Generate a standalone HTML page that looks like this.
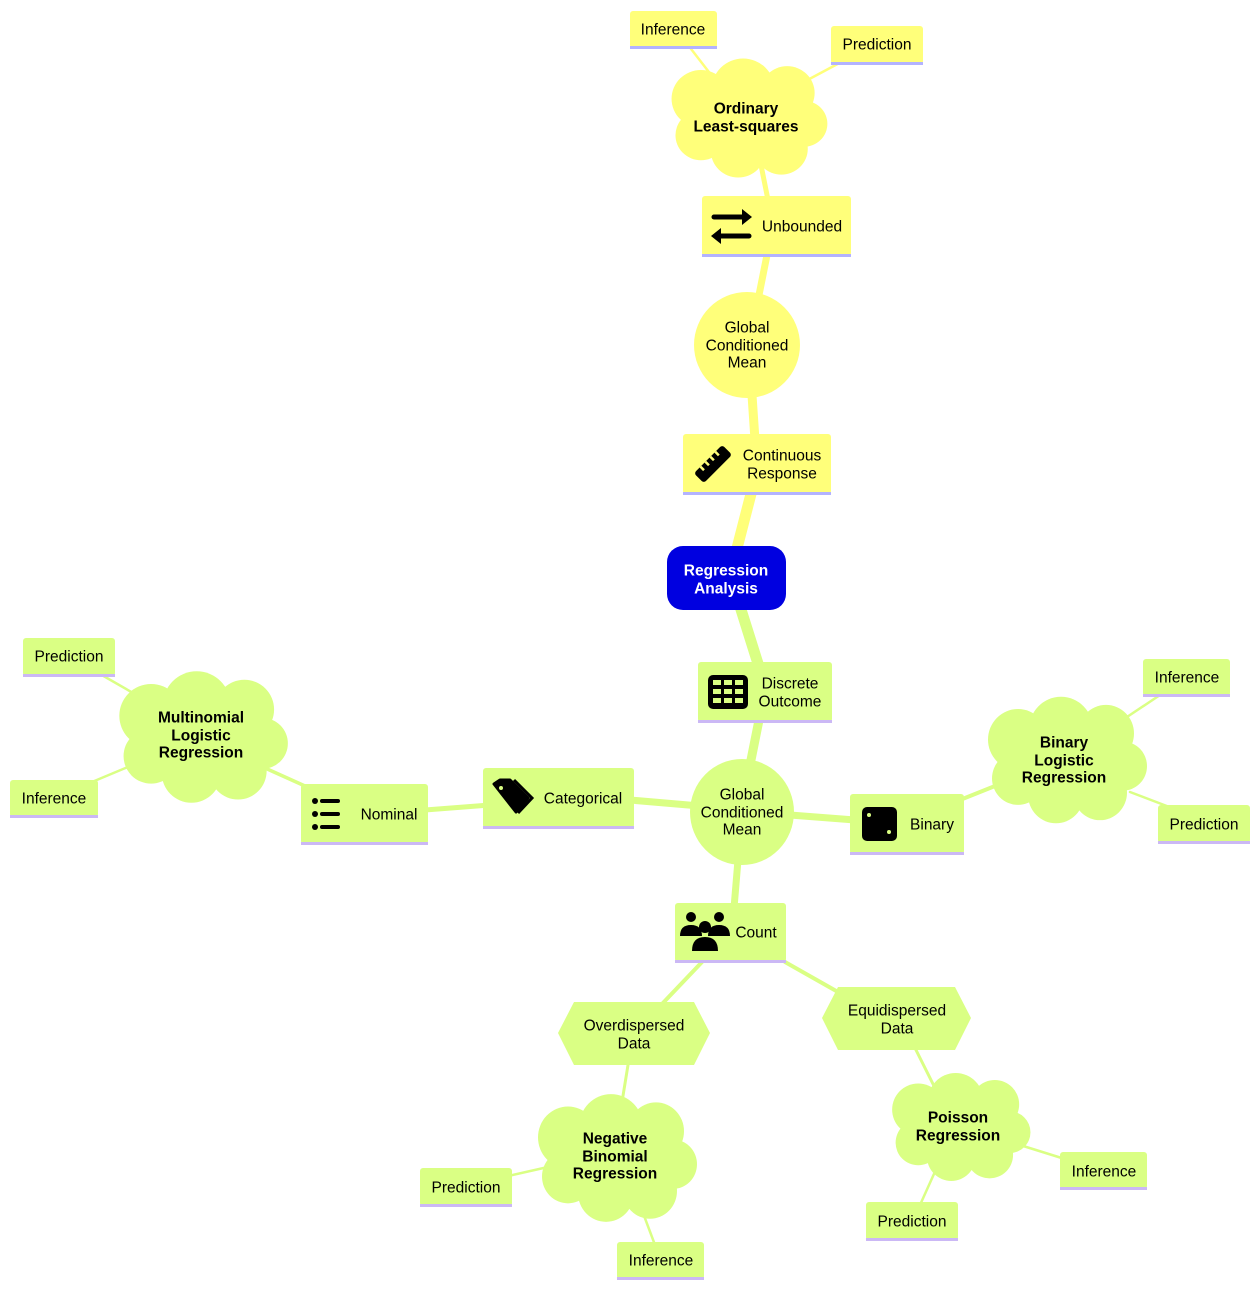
<!DOCTYPE html>
<html><head><meta charset="utf-8"><style>
html,body{margin:0;padding:0;background:#fff}
svg{display:block}
text{font-family:"Liberation Sans",sans-serif;font-size:15.5px;fill:#000;text-anchor:middle;dominant-baseline:central}
.b{font-weight:bold}
.g{fill:#daff84}.y{fill:#ffff7a}
</style></head><body>
<svg width="1260" height="1289" viewBox="0 0 1260 1289" xmlns="http://www.w3.org/2000/svg">
<defs>
<g id="cloud">
<ellipse cx="0" cy="0" rx="62" ry="42"/>
<circle cx="-48" cy="-20" r="30"/>
<circle cx="-5" cy="-30" r="32"/>
<circle cx="40" cy="-26" r="28"/>
<circle cx="57" cy="6" r="24"/>
<circle cx="34" cy="32" r="27"/>
<circle cx="-10" cy="34" r="28"/>
<circle cx="-48" cy="18" r="26"/>
</g>
</defs>
<g stroke-linecap="round" fill="none">
<g stroke="#ffff7a">
<line x1="735" y1="556" x2="752" y2="490" stroke-width="11"/>
<line x1="755" y1="440" x2="752" y2="395" stroke-width="9"/>
<line x1="758" y1="300" x2="768" y2="250" stroke-width="7"/>
<line x1="768" y1="200" x2="760" y2="160" stroke-width="5"/>
<line x1="712" y1="76" x2="688" y2="45" stroke-width="2.5"/>
<line x1="800" y1="84" x2="845" y2="60" stroke-width="2.5"/>
</g>
<g stroke="#daff84">
<line x1="738" y1="600" x2="760" y2="670" stroke-width="11"/>
<line x1="760" y1="715" x2="750" y2="765" stroke-width="9"/>
<line x1="700" y1="806" x2="630" y2="800" stroke-width="7"/>
<line x1="490" y1="805" x2="425" y2="810" stroke-width="5"/>
<line x1="305" y1="786" x2="265" y2="768" stroke-width="3.5"/>
<line x1="140" y1="697" x2="100" y2="674" stroke-width="2.5"/>
<line x1="135" y1="764" x2="92" y2="782" stroke-width="2.5"/>
<line x1="790" y1="815" x2="855" y2="820" stroke-width="7"/>
<line x1="960" y1="800" x2="1000" y2="784" stroke-width="4"/>
<line x1="1115" y1="725" x2="1160" y2="695" stroke-width="2.5"/>
<line x1="1130" y1="792" x2="1172" y2="808" stroke-width="2.5"/>
<line x1="738" y1="860" x2="734" y2="908" stroke-width="7"/>
<line x1="702" y1="962" x2="662" y2="1004" stroke-width="4"/>
<line x1="785" y1="962" x2="838" y2="992" stroke-width="4"/>
<line x1="628" y1="1065" x2="622" y2="1102" stroke-width="3"/>
<line x1="548" y1="1167" x2="508" y2="1176" stroke-width="2.5"/>
<line x1="640" y1="1205" x2="655" y2="1245" stroke-width="2.5"/>
<line x1="915" y1="1048" x2="935" y2="1088" stroke-width="3"/>
<line x1="1020" y1="1145" x2="1068" y2="1160" stroke-width="2.5"/>
<line x1="938" y1="1165" x2="920" y2="1205" stroke-width="2.5"/>
</g>
</g>

<!-- root -->
<rect x="667" y="546" width="119" height="64" rx="16" fill="#0000e0"/>
<text x="726" y="571" class="b" style="fill:#fff">Regression</text>
<text x="726" y="589" class="b" style="fill:#fff">Analysis</text>

<!-- yellow branch -->
<rect x="683" y="434" width="148" height="60" rx="3" class="y"/><rect x="683" y="492" width="148" height="3" fill="#b3b3ff"/>
<g transform="translate(713,464) rotate(-45)"><rect x="-20" y="-7" width="40" height="14" rx="3" fill="#000"/><g fill="#ffff7a"><rect x="-12" y="-7" width="2.5" height="5"/><rect x="-5" y="-7" width="2.5" height="5"/><rect x="2" y="-7" width="2.5" height="5"/><rect x="9" y="-7" width="2.5" height="5"/></g></g>
<text x="782" y="456">Continuous</text><text x="782" y="474">Response</text>

<circle cx="747" cy="345" r="53" class="y"/>
<text x="747" y="328">Global</text><text x="747" y="346">Conditioned</text><text x="747" y="363">Mean</text>

<rect x="702" y="196" width="149" height="60" rx="3" class="y"/><rect x="702" y="254" width="149" height="3" fill="#b3b3ff"/>
<g stroke="#000" stroke-width="5" fill="none" stroke-linecap="round"><line x1="714" y1="217" x2="745" y2="217"/><line x1="718" y1="236" x2="749" y2="236"/></g>
<path d="M742,209 L752,217 L742,225Z M721,228 L711,236 L721,244Z" fill="#000"/>
<text x="802" y="227">Unbounded</text>

<use href="#cloud" transform="translate(748,118) scale(0.98,0.96)" class="y"/>
<text x="746" y="109" class="b">Ordinary</text><text x="746" y="127" class="b">Least-squares</text>

<rect x="630" y="11" width="87" height="37" rx="3" class="y"/><rect x="630" y="46" width="87" height="3" fill="#b3b3ff"/><text x="673" y="30">Inference</text>
<rect x="831" y="26" width="92" height="38" rx="3" class="y"/><rect x="831" y="62" width="92" height="3" fill="#b3b3ff"/><text x="877" y="45">Prediction</text>

<!-- green branch -->
<rect x="698" y="662" width="134" height="60" rx="3" class="g"/><rect x="698" y="720" width="134" height="3" fill="#cbb8f5"/>
<rect x="708" y="675" width="40" height="34" rx="5" fill="#000"/>
<g fill="#daff84"><rect x="713" y="680" width="8" height="5"/><rect x="724" y="680" width="8" height="5"/><rect x="735" y="680" width="8" height="5"/><rect x="713" y="689" width="8" height="5"/><rect x="724" y="689" width="8" height="5"/><rect x="735" y="689" width="8" height="5"/><rect x="713" y="698" width="8" height="5"/><rect x="724" y="698" width="8" height="5"/><rect x="735" y="698" width="8" height="5"/></g>
<text x="790" y="684">Discrete</text><text x="790" y="702">Outcome</text>

<ellipse cx="742" cy="812" rx="52" ry="53" class="g"/>
<text x="742" y="795">Global</text><text x="742" y="813">Conditioned</text><text x="742" y="830">Mean</text>

<rect x="483" y="768" width="151" height="60" rx="3" class="g"/><rect x="483" y="826" width="151" height="3" fill="#cbb8f5"/>
<path d="M494,784 L500,780 L510,780 L528,798 L516,812 Z" fill="#000" stroke="#000" stroke-width="3" stroke-linejoin="round"/>
<circle cx="501" cy="788" r="2" fill="#daff84"/>
<path d="M514,780 L532,798 L518,813" fill="none" stroke="#000" stroke-width="3"/>
<text x="583" y="799">Categorical</text>

<rect x="301" y="784" width="127" height="60" rx="3" class="g"/><rect x="301" y="842" width="127" height="3" fill="#cbb8f5"/>
<g fill="#000"><circle cx="315" cy="801" r="3"/><circle cx="315" cy="814" r="3"/><circle cx="315" cy="827" r="3"/><rect x="320" y="799" width="20" height="4" rx="2"/><rect x="320" y="812" width="20" height="4" rx="2"/><rect x="320" y="825" width="20" height="4" rx="2"/></g>
<text x="389" y="815">Nominal</text>

<use href="#cloud" transform="translate(202,737) scale(1.06,1.06)" class="g"/>
<text x="201" y="718" class="b">Multinomial</text><text x="201" y="736" class="b">Logistic</text><text x="201" y="753" class="b">Regression</text>
<rect x="23" y="638" width="92" height="38" rx="3" class="g"/><rect x="23" y="674" width="92" height="3" fill="#cbb8f5"/><text x="69" y="657">Prediction</text>
<rect x="10" y="780" width="88" height="37" rx="3" class="g"/><rect x="10" y="815" width="88" height="3" fill="#cbb8f5"/><text x="54" y="799">Inference</text>

<rect x="850" y="794" width="114" height="60" rx="3" class="g"/><rect x="850" y="852" width="114" height="3" fill="#cbb8f5"/>
<rect x="862" y="807" width="35" height="34" rx="5" fill="#000"/><circle cx="869" cy="815" r="2" fill="#daff84"/><circle cx="889" cy="832" r="2" fill="#daff84"/>
<text x="932" y="825">Binary</text>

<use href="#cloud" transform="translate(1066,760) scale(1.0,1.02)" class="g"/>
<text x="1064" y="743" class="b">Binary</text><text x="1064" y="761" class="b">Logistic</text><text x="1064" y="778" class="b">Regression</text>
<rect x="1143" y="659" width="87" height="37" rx="3" class="g"/><rect x="1143" y="694" width="87" height="3" fill="#cbb8f5"/><text x="1187" y="678">Inference</text>
<rect x="1158" y="805" width="92" height="38" rx="3" class="g"/><rect x="1158" y="841" width="92" height="3" fill="#cbb8f5"/><text x="1204" y="825">Prediction</text>

<rect x="675" y="903" width="111" height="59" rx="3" class="g"/><rect x="675" y="960" width="111" height="3" fill="#cbb8f5"/>
<g fill="#000"><circle cx="691" cy="917" r="5"/><circle cx="719" cy="917" r="5"/><path d="M680,936 Q680,925 691,925 Q702,925 702,936Z"/><path d="M708,936 Q708,925 719,925 Q730,925 730,936Z"/><circle cx="705" cy="927" r="6"/><path d="M692,951 Q692,937 705,937 Q718,937 718,951Z"/></g>
<text x="756" y="933">Count</text>

<polygon points="558,1033 574,1002 694,1002 710,1033 694,1065 574,1065" class="g"/>
<text x="634" y="1026">Overdispersed</text><text x="634" y="1044">Data</text>
<polygon points="822,1018 838,987 955,987 971,1018 955,1050 838,1050" class="g"/>
<text x="897" y="1011">Equidispersed</text><text x="897" y="1029">Data</text>

<use href="#cloud" transform="translate(616,1158) scale(1.0,1.03)" class="g"/>
<text x="615" y="1139" class="b">Negative</text><text x="615" y="1157" class="b">Binomial</text><text x="615" y="1174" class="b">Regression</text>
<rect x="420" y="1168" width="92" height="38" rx="3" class="g"/><rect x="420" y="1204" width="92" height="3" fill="#cbb8f5"/><text x="466" y="1188">Prediction</text>
<rect x="617" y="1242" width="87" height="37" rx="3" class="g"/><rect x="617" y="1277" width="87" height="3" fill="#cbb8f5"/><text x="661" y="1261">Inference</text>

<use href="#cloud" transform="translate(960,1127) scale(0.87,0.87)" class="g"/>
<text x="958" y="1118" class="b">Poisson</text><text x="958" y="1136" class="b">Regression</text>
<rect x="1060" y="1152" width="87" height="37" rx="3" class="g"/><rect x="1060" y="1187" width="87" height="3" fill="#cbb8f5"/><text x="1104" y="1172">Inference</text>
<rect x="866" y="1202" width="92" height="38" rx="3" class="g"/><rect x="866" y="1238" width="92" height="3" fill="#cbb8f5"/><text x="912" y="1222">Prediction</text>
</svg>
</body></html>
